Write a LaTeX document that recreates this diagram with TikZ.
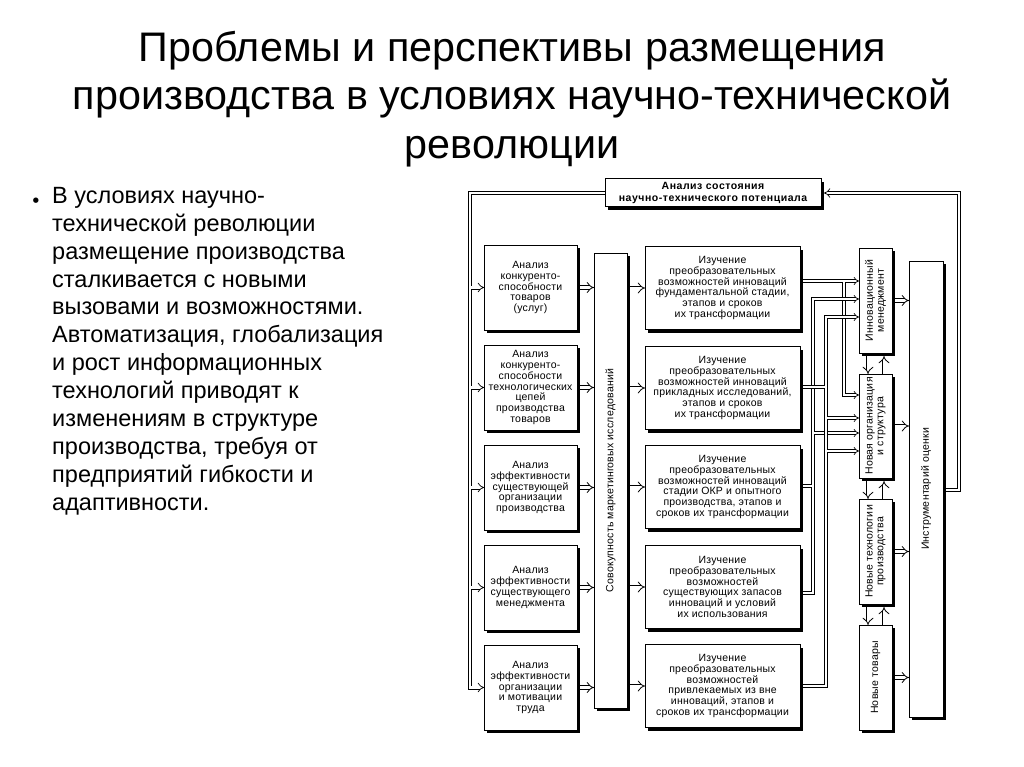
\documentclass[tikz,border=0pt]{standalone}
\usepackage{fontspec}
\setmainfont{Liberation Sans}
\newfontfamily\dejavu{DejaVu Sans}
\newfontfamily\boxfont[LetterSpace=2]{Liberation Sans}
\newfontfamily\topfont[LetterSpace=5]{Liberation Sans}
\usetikzlibrary{arrows.meta,shadows,calc}
\newcommand\bxf{\boxfont\fontsize{10.5}{10.8}\selectfont}
\begin{document}
\begin{tikzpicture}[x=1pt,y=-1pt,
  box/.style={draw=black, line width=1pt, fill=white, align=center, font=\bxf,
    inner sep=0pt, outer sep=0pt,
    drop shadow={shadow xshift=3pt, shadow yshift=-3pt, fill=black, opacity=1}},
  lbox/.style={box, minimum width=93, minimum height=85},
  mbox/.style={box, minimum width=155, minimum height=83},
  rbox/.style={box, minimum width=33, minimum height=105},
  rot/.style={rotate=90, align=center, font=\bxf, inner sep=0pt},
  lp/.style={draw=black, double=white, line width=0.7pt, double distance=2.6pt},
  big/.style={draw=black, double=white, line width=0.8pt, double distance=3pt, -{Implies}},
  netl/.style={draw=black, double=white, line width=0.7pt, double distance=2pt},
  netarr/.style={netl, -{Implies}},
]
\useasboundingbox (0,0) rectangle (1024,767);

% title
\node[font=\fontsize{41.3}{48.5}\selectfont, align=center] (title) at (512,99)
  {Проблемы и перспективы размещения\\производства в условиях научно-технической\\революции};

% left text
\node[font=\dejavu\fontsize{7}{7}\selectfont, inner sep=0pt] (bul) at (36,201) {●};
\node[anchor=north west, align=left, inner sep=0pt, font=\fontsize{23.5}{27.9}\selectfont] (txt) at (52,187)
  {В условиях научно-\\технической революции\\размещение производства\\сталкивается с новыми\\вызовами и возможностями.\\Автоматизация, глобализация\\и рост информационных\\технологий приводят к\\изменениям в структуре\\производства, требуя от\\предприятий гибкости и\\адаптивности.};

% top box
\node[box, minimum width=216, minimum height=28, font=\topfont\bfseries\fontsize{10.5}{11.5}\selectfont] (top) at (713,193)
  {Анализ состояния\\научно-технического потенциала};

% left column
\node[lbox] (b1) at (530.5,287.5) {Анализ\\конкуренто-\\способности\\товаров\\(услуг)};
\node[lbox] (b2) at (530.5,387.5) {Анализ\\конкуренто-\\способности\\технологических\\цепей\\производства\\товаров};
\node[lbox] (b3) at (530.5,487.5) {Анализ\\эффективности\\существующей\\организации\\производства};
\node[lbox] (b4) at (530.5,587.5) {Анализ\\эффективности\\существующего\\менеджмента};
\node[lbox] (b5) at (530.5,687.5) {Анализ\\эффективности\\организации\\и мотивации\\труда};

% marketing column
\node[box, minimum width=33, minimum height=455] (mk) at (610.5,480.5) {};
\node[rot] (mkt) at (mk.center) {Совокупность маркетинговых исследований};

% middle column
\node[mbox] (m1) at (722.5,288) {Изучение\\преобразовательных\\возможностей инноваций\\фундаментальной стадии,\\этапов и сроков\\их трансформации};
\node[mbox] (m2) at (722.5,388) {Изучение\\преобразовательных\\возможностей инноваций\\прикладных исследований,\\этапов и сроков\\их трансформации};
\node[mbox] (m3) at (722.5,487) {Изучение\\преобразовательных\\возможностей инноваций\\стадии ОКР и опытного\\производства, этапов и\\сроков их трансформации};
\node[mbox] (m4) at (722.5,587) {Изучение\\преобразовательных\\возможностей\\существующих запасов\\инноваций и условий\\их использования};
\node[mbox] (m5) at (722.5,686) {Изучение\\преобразовательных\\возможностей\\привлекаемых из вне\\инноваций, этапов и\\сроков их трансформации};

% right column
\node[rbox] (im) at (875.5,300.5) {};
\node[rot] (imt) at (im.center) {Инновационный\\менеджмент};
\node[rbox, minimum height=104] (no) at (875.5,426) {};
\node[rot] (nott) at (no.center) {Новая организация\\и структура};
\node[rbox] (nt) at (875.5,551.5) {};
\node[rot] (ntt) at (nt.center) {Новые технологии\\производства};
\node[rbox] (nn) at (875.5,677.5) {};
\node[rot] (nnt) at (nn.center) {Новые товары};

\node[box, minimum width=34, minimum height=456] (ins) at (926,489) {};
\node[rot] (inst) at (ins.center) {Инструментарий оценки};

% feedback loop
\coordinate (lfv) at (470,0);
\coordinate (rfv) at (959,0);
\draw[lp] (top.west) -| (lfv |- b5.west) -- ($(b5.west)+(-9,0)$)
  (lfv |- b1.west) -- ($(b1.west)+(-9,0)$)
  (lfv |- b2.west) -- ($(b2.west)+(-9,0)$)
  (lfv |- b3.west) -- ($(b3.west)+(-9,0)$)
  (lfv |- b4.west) -- ($(b4.west)+(-9,0)$);
\foreach \b in {b1,b2,b3,b4,b5}
  \draw[lp,-{Implies}] ($(\b.west)+(-9,0)$) -- (\b.west);
\coordinate (fbo) at (946,490);
\draw[lp,-{Implies}] (fbo) -| (rfv |- top.east) -- ($(top.east)+(3,0)$);

% left boxes -> marketing -> middle
\foreach \b/\m in {b1/m1,b2/m2,b3/m3,b4/m4,b5/m5}{
  \draw[big] ($(\b.east)+(3,0)$) -- (\b.east -| mk.west);
  \draw[big] ($(mk.east |- \m.west)+(3,0)$) -- (\m.west);
}

% middle -> right network
\coordinate (ta) at (844,0);
\coordinate (tb) at (813,0);
\coordinate (tc) at (826,0);
\coordinate (st) at (850,0);
\path[netl] ($(m1.east)+(3,-7)$) -- (st |- 0,281) (ta |- 0,281) |- (st |- 0,395);
\path[netl] ($(m4.east)+(3,6)$) -| (tb |- 0,299) -- (st |- 0,299)
  ($(m3.east)+(3,-1)$) -- (tb |- 0,486) (tb |- 0,433) -- (st |- 0,433);
\path[netl] ($(m5.east)+(3,0)$) -| (tc |- 0,317) -- (st |- 0,317)
  ($(m2.east)+(3,-1)$) -- (tc |- 0,387) (tc |- 0,418) -- (st |- 0,418)
  (tc |- 0,451) -- (st |- 0,451);
\foreach \y in {281,299,317}
  \draw[netarr] (st |- 0,\y) -- (im.west |- 0,\y);
\foreach \y in {395,418,433,451}
  \draw[netarr] (st |- 0,\y) -- (no.west |- 0,\y);

% right boxes -> instrument
\foreach \r in {im,no,nt,nn}
  \draw[big] ($(\r.east)+(3,0)$) -- (\r.east -| ins.west);

% vertical arrows between right boxes
\foreach \u/\d in {im/no,no/nt,nt/nn}{
  \draw[big] ($(\u.south -| 868,0)+(0,3)$) -- (\d.north -| 868,0);
  \draw[big] (\d.north -| 884,0) -- ($(\u.south -| 884,0)+(0,3)$);
}
\end{tikzpicture}
\end{document}
